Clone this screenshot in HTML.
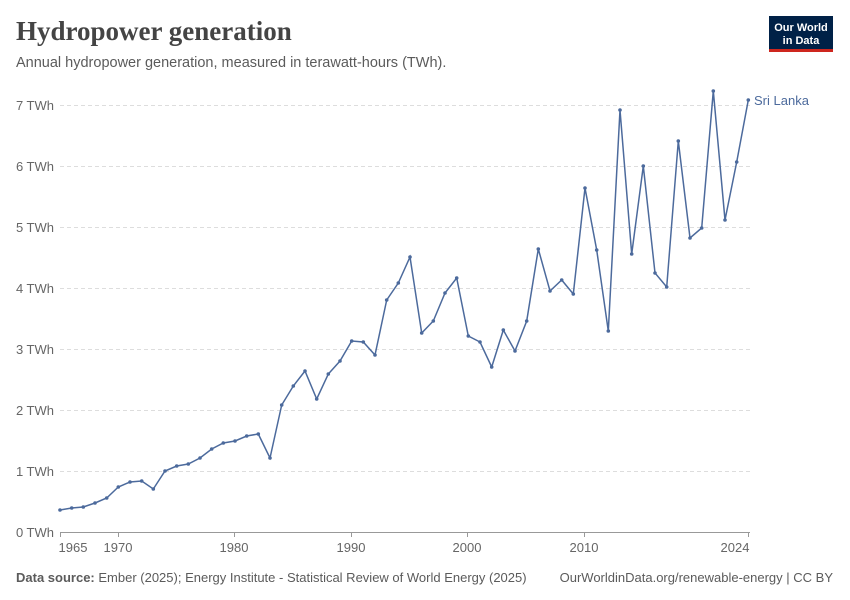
<!DOCTYPE html>
<html><head><meta charset="utf-8"><style>
body{margin:0;background:#fff;font-family:"Liberation Sans",sans-serif;}
</style></head><body>
<svg width="850" height="600" xmlns="http://www.w3.org/2000/svg" style="display:block">
<rect width="850" height="600" fill="#fff"/>
<text x="16" y="40" font-family="Liberation Serif,serif" font-size="27" font-weight="bold" fill="#444">Hydropower generation</text>
<text x="16" y="67" font-size="14.5" fill="#5b5b5b">Annual hydropower generation, measured in terawatt-hours (TWh).</text>
<rect x="769" y="16" width="64" height="36" fill="#002147"/>
<rect x="769" y="49" width="64" height="3" fill="#ce261e"/>
<text x="801" y="31" font-size="11" fill="#fff" text-anchor="middle" font-weight="bold">Our World</text>
<text x="801" y="44" font-size="11" fill="#fff" text-anchor="middle" font-weight="bold">in Data</text>
<g stroke="#ddd" stroke-dasharray="4,3">
<line x1="60" x2="750" y1="105.5" y2="105.5"/><line x1="60" x2="750" y1="166.5" y2="166.5"/>
<line x1="60" x2="750" y1="227.5" y2="227.5"/><line x1="60" x2="750" y1="288.5" y2="288.5"/>
<line x1="60" x2="750" y1="349.5" y2="349.5"/><line x1="60" x2="750" y1="410.5" y2="410.5"/>
<line x1="60" x2="750" y1="471.5" y2="471.5"/>
</g>
<line x1="60" x2="750" y1="532.5" y2="532.5" stroke="#999"/>
<g font-size="13" fill="#666" text-anchor="end">
<text x="54" y="110">7 TWh</text><text x="54" y="171">6 TWh</text><text x="54" y="232">5 TWh</text>
<text x="54" y="293">4 TWh</text><text x="54" y="354">3 TWh</text><text x="54" y="415">2 TWh</text>
<text x="54" y="476">1 TWh</text><text x="54" y="537">0 TWh</text>
</g>
<g stroke="#999"><line x1="60.5" x2="60.5" y1="532" y2="537"/><line x1="118.5" x2="118.5" y1="532" y2="537"/><line x1="234.5" x2="234.5" y1="532" y2="537"/><line x1="351.5" x2="351.5" y1="532" y2="537"/><line x1="467.5" x2="467.5" y1="532" y2="537"/><line x1="584.5" x2="584.5" y1="532" y2="537"/><line x1="748.5" x2="748.5" y1="532" y2="537"/></g>
<g font-size="13" fill="#666" text-anchor="middle">
<text x="73" y="552">1965</text><text x="118" y="552">1970</text><text x="234" y="552">1980</text>
<text x="351" y="552">1990</text><text x="467" y="552">2000</text><text x="584" y="552">2010</text><text x="735" y="552">2024</text>
</g>
<polyline id="l" fill="none" stroke="#4c6a9c" stroke-width="1.5" points="60,510 71.7,508 83.3,507 95,503 106.7,498 118.3,487 130,482 141.7,481 153.3,489 165,471 176.7,466 188.3,464 200,458 211.7,449 223.3,443 235,441 246.7,436 258.3,434 270,458 281.7,405 293.3,386 305,371 316.7,399 328.3,374 340,361 351.7,341 363.3,342 375,355 386.7,300 398.3,283 410,257 421.7,333 433.3,321 445,293 456.7,278 468.3,336 480,342 491.7,367 503.3,330 515,351 526.7,321 538.3,249 550,291 561.7,280 573.3,294 585,188 596.7,250 608.3,331 620,110 631.7,254 643.3,166 655,273 666.7,287 678.3,141 690,238 701.7,228 713.3,91 725,220 736.7,162 748.3,100"/>
<g id="dots" fill="#4c6a9c"></g>
<text x="754" y="105" font-size="13" fill="#4c6a9c">Sri Lanka</text>
<text x="16" y="582" font-size="13" fill="#5b5b5b"><tspan font-weight="bold">Data source:</tspan> Ember (2025); Energy Institute - Statistical Review of World Energy (2025)</text>
<text x="833" y="582" font-size="13" fill="#5b5b5b" text-anchor="end">OurWorldinData.org/renewable-energy | CC BY</text>
</svg>
<script>
var p=document.getElementById('l').getAttribute('points').trim().split(/\s+/),g=document.getElementById('dots');
p.forEach(function(s){var a=s.split(',');var c=document.createElementNS('http://www.w3.org/2000/svg','circle');c.setAttribute('cx',a[0]);c.setAttribute('cy',a[1]);c.setAttribute('r','1.8');g.appendChild(c);});
</script>
</body></html>
